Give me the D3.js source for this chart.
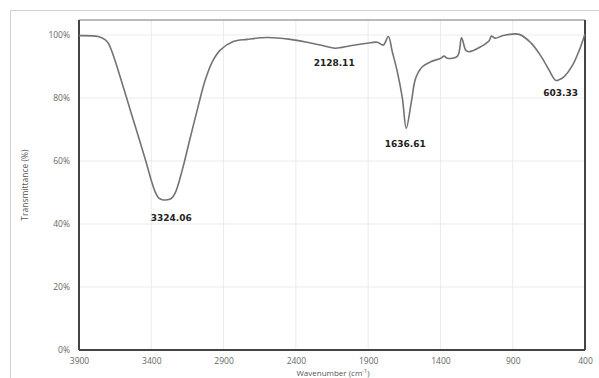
<!DOCTYPE html>
<html><head><meta charset="utf-8">
<script src="https://cdn.jsdelivr.net/npm/d3@7"></script>
<style>body{margin:0;background:#fff}svg{display:block}</style>
</head><body>
<svg id="c" width="599" height="378"></svg>
<script>
const wavenumbers = [3900,3768,3720,3697,3671,3630,3581,3533,3484,3436,3401,3373,3346,3324.06,3290,3262,3235,3186,3131,3075,3027,2978,2923,2833,2736,2597,2438,2322,2209,2128.11,2022,1906,1837,1795,1760,1733,1698,1663,1636.61,1601,1571,1525,1467,1398,1375,1351,1282,1254,1225,1202,1121,1063,1047,1024,959,855,774,705,649,624,603.33,580,546,485,439,400];
const transmittance = [99.8,99.5,98.5,97.4,94.6,88.9,81.6,74.3,67.0,59.7,54.0,50.2,48.1,47.7,47.7,48.1,49.8,57.1,67.3,77.5,85.7,91.5,95.2,97.9,98.6,99.2,98.6,97.7,96.6,95.8,96.6,97.4,97.7,96.8,99.5,94.7,88.3,79.9,70.4,78.8,86.3,89.9,91.5,92.6,93.3,92.6,93.3,99.1,95.2,94.7,96.3,98.2,99.7,99.0,99.9,100.2,97.5,93.3,88.9,86.8,85.6,85.8,86.7,90.5,95.2,100.3];
const xTicks = [3900,3400,2900,2400,1900,1400,900,400];
const yTicks = [0,20,40,60,80,100];
const peakLabels = ["3324.06","2128.11","1636.61","603.33"];
const peakValues = [47.7,95.8,70.4,85.6];

const svg = d3.select("#c");
const L=79, R=585, T=20, B=350;
const x = d3.scaleLinear().domain([3900,400]).range([L,R]);
const y = d3.scaleLinear().domain([0,104.76]).range([B,T]);

// outer frame
svg.append("path").attr("d","M10.5,378 V10.5 H599").attr("fill","none").attr("stroke","#cfcfcf").attr("stroke-width",1);

// grid
svg.append("g").selectAll("line").data(xTicks).join("line")
  .attr("x1",d=>x(d)).attr("x2",d=>x(d)).attr("y1",T).attr("y2",B)
  .attr("stroke","#ebebeb").attr("stroke-width",1);
svg.append("g").selectAll("line").data(yTicks).join("line")
  .attr("x1",L).attr("x2",R).attr("y1",d=>y(d)).attr("y2",d=>y(d))
  .attr("stroke","#ebebeb").attr("stroke-width",1);

// axes
const xa = svg.append("g").attr("transform",`translate(0,${B})`)
  .call(d3.axisBottom(x).tickValues(xTicks).tickSize(0).tickPadding(8).tickFormat(d3.format("d")));
const ya = svg.append("g").attr("transform",`translate(${L},0)`)
  .call(d3.axisLeft(y).tickValues(yTicks).tickSize(0).tickPadding(9).tickFormat(d=>d+"%"));
[xa,ya].forEach(g=>{
  g.select(".domain").remove();
  g.selectAll("text").attr("font-family","'Open Sans', sans-serif").attr("font-size","8.5px").attr("fill","#666");
});

// plot border
svg.append("line").attr("x1",L).attr("x2",R).attr("y1",T).attr("y2",T).attr("stroke","#777").attr("stroke-width",1.2);
svg.append("line").attr("x1",L).attr("x2",L).attr("y1",T).attr("y2",B).attr("stroke","#444").attr("stroke-width",2);
svg.append("line").attr("x1",L).attr("x2",R).attr("y1",B).attr("y2",B).attr("stroke","#444").attr("stroke-width",2);
svg.append("line").attr("x1",R).attr("x2",R).attr("y1",T).attr("y2",B).attr("stroke","#444").attr("stroke-width",2);

// curve
const data = wavenumbers.map((w,i)=>({w, t:transmittance[i]}));
svg.append("path").datum(data)
  .attr("d", d3.line().x(d=>x(d.w)).y(d=>y(d.t)).curve(d3.curveCatmullRom.alpha(0.5)))
  .attr("fill","none").attr("stroke","#737373").attr("stroke-width",1.6).attr("stroke-linejoin","round");

// peak labels
const dxs=[9,-1,-1,5], dys=[21,18,19,16];
svg.append("g").selectAll("text").data(peakLabels).join("text")
  .attr("x",(d,i)=>x(+d)+dxs[i]).attr("y",(d,i)=>y(peakValues[i])+dys[i])
  .attr("text-anchor","middle").attr("font-family","'DejaVu Sans', sans-serif")
  .attr("font-weight","bold").attr("font-size","9px").attr("fill","#222").text(d=>d);

// axis titles
svg.append("text").attr("transform","translate(28,185) rotate(-90)").attr("text-anchor","middle")
  .attr("font-family","'Open Sans', sans-serif").attr("font-size","8.5px").attr("fill","#555").text("Transmittance (%)");
svg.append("text").attr("x",333).attr("y",375.5).attr("text-anchor","middle")
  .attr("font-family","'Open Sans', sans-serif").attr("font-size","8px").attr("fill","#555")
  .html("Wavenumber (cm<tspan dy='-2.5' font-size='5.5px'>-1</tspan><tspan dy='2.5'>)</tspan>");
</script>
</body></html>
